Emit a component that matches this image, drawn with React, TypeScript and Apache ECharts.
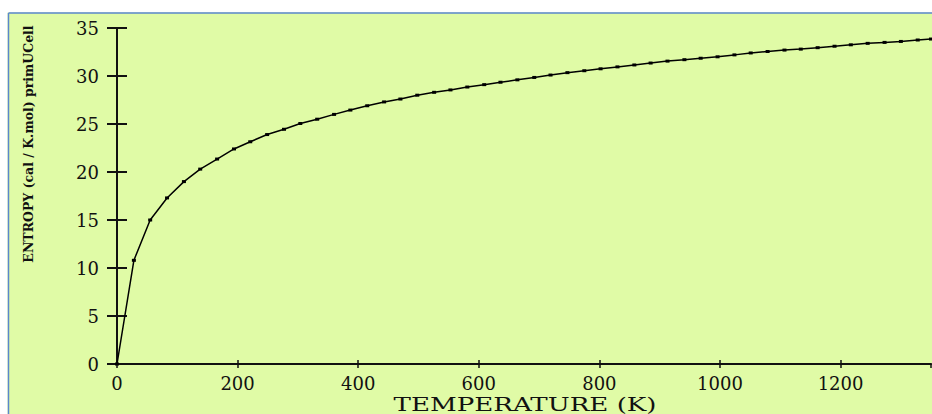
import React, { useEffect, useRef } from "react";
import * as echarts from "echarts";

const temperatures = [
  0, 28, 55, 83, 111, 138, 166, 194, 221, 249, 277, 304, 332, 360, 387, 415,
  443, 470, 498, 526, 553, 581, 609, 636, 664, 692, 719, 747, 775, 802, 830,
  858, 885, 913, 941, 968, 996, 1024, 1051, 1079, 1107, 1134, 1162, 1190, 1217,
  1245, 1273, 1300, 1328, 1350,
];
const entropy = [
  0, 10.8, 15.0, 17.3, 19.0, 20.3, 21.35, 22.4, 23.15, 23.9, 24.45, 25.05, 25.5,
  26.0, 26.45, 26.9, 27.3, 27.6, 28.0, 28.3, 28.55, 28.85, 29.1, 29.35, 29.6,
  29.85, 30.1, 30.35, 30.55, 30.75, 30.95, 31.15, 31.35, 31.55, 31.7, 31.85,
  32.0, 32.2, 32.4, 32.55, 32.7, 32.8, 32.95, 33.1, 33.25, 33.4, 33.5, 33.6,
  33.75, 33.85,
];
const xTitle = "TEMPERATURE (K)";
const yTitle = "ENTROPY (cal / K.mol) primUCell";

const FONT = "DejaVu Serif";

export default function App() {
  const ref = useRef<HTMLDivElement>(null);
  useEffect(() => {
    if (!ref.current) return;
    const chart = echarts.init(ref.current, undefined, { renderer: "svg" });
    const data = temperatures.map((t, i) => [t, entropy[i]]);
    const axisLine = { lineStyle: { color: "#111", width: 2 } };
    const fmt = (v: number) => String(v);
    chart.setOption({
      animation: false,
      backgroundColor: "#e0fba6",
      grid: { left: 117, top: 28, right: 1, bottom: 50, containLabel: false },
      xAxis: [
        {
          type: "value",
          position: "bottom",
          min: 0,
          max: 1350,
          interval: 200,
          axisLine: { show: true, lineStyle: { color: "#333", width: 1.5 } },
          axisTick: { show: true, inside: true, length: 4, lineStyle: { color: "#111", width: 1.5 } },
          axisLabel: { formatter: fmt, showMaxLabel: false, color: "#111", fontFamily: FONT, fontSize: 18, margin: 10 },
          splitLine: { show: false },
        },
        {
          type: "value",
          position: "top",
          min: 0,
          max: 1350,
          interval: 200,
          axisLine: { show: true, ...axisLine },
          axisTick: { show: true, inside: true, length: 4, lineStyle: { color: "#111", width: 1.5 } },
          axisLabel: { show: false },
          splitLine: { show: false },
        },
      ],
      yAxis: [
        {
          type: "value",
          position: "left",
          min: 0,
          max: 35,
          interval: 5,
          axisLine: { show: true, ...axisLine },
          axisTick: { show: true, inside: true, length: 10, lineStyle: { color: "#111", width: 2 } },
          axisLabel: { formatter: fmt, color: "#111", fontFamily: FONT, fontSize: 18, margin: 18 },
          splitLine: { show: false },
        },
        {
          type: "value",
          position: "right",
          min: 0,
          max: 35,
          interval: 5,
          axisLine: { show: true, ...axisLine },
          axisTick: { show: true, inside: true, length: 10, lineStyle: { color: "#111", width: 2 } },
          axisLabel: { show: false },
          splitLine: { show: false },
        },
      ],
      series: [
        {
          type: "line",
          data,
          xAxisIndex: 0,
          yAxisIndex: 0,
          symbol: "rect",
          symbolSize: [4, 3],
          itemStyle: { color: "#000" },
          lineStyle: { color: "#000", width: 1.5 },
          smooth: false,
        },
      ],
      graphic: [
        { type: "rect", shape: { x: 0, y: 0, width: 932, height: 12.5 }, style: { fill: "#ffffff" }, silent: true },
        { type: "rect", shape: { x: 0, y: 0, width: 7.5, height: 414 }, style: { fill: "#ffffff" }, silent: true },
        { type: "line", shape: { x1: 8.5, y1: 13, x2: 932, y2: 13 }, style: { stroke: "#5b86cf", lineWidth: 1.5 }, silent: true },
        { type: "line", shape: { x1: 8.5, y1: 13, x2: 8.5, y2: 414 }, style: { stroke: "#5b86cf", lineWidth: 1.5 }, silent: true },
        {
          type: "text",
          x: 525,
          y: 405,
          scaleX: 1.45,
          style: {
            text: xTitle,
            fontFamily: FONT,
            fontSize: 18,
            fill: "#111",
            align: "center",
            verticalAlign: "middle",
          },
        },
        {
          type: "text",
          x: 28,
          y: 144,
          rotation: Math.PI / 2,
          style: {
            text: yTitle,
            fontFamily: FONT,
            fontSize: 12.5,
            fontWeight: "bold",
            fill: "#111",
            align: "center",
            verticalAlign: "middle",
          },
        },
      ],
    });
    return () => chart.dispose();
  }, []);
  return (
    <div
      ref={ref}
      style={{ position: "fixed", left: 0, top: 0, width: 932, height: 414 }}
    />
  );
}
